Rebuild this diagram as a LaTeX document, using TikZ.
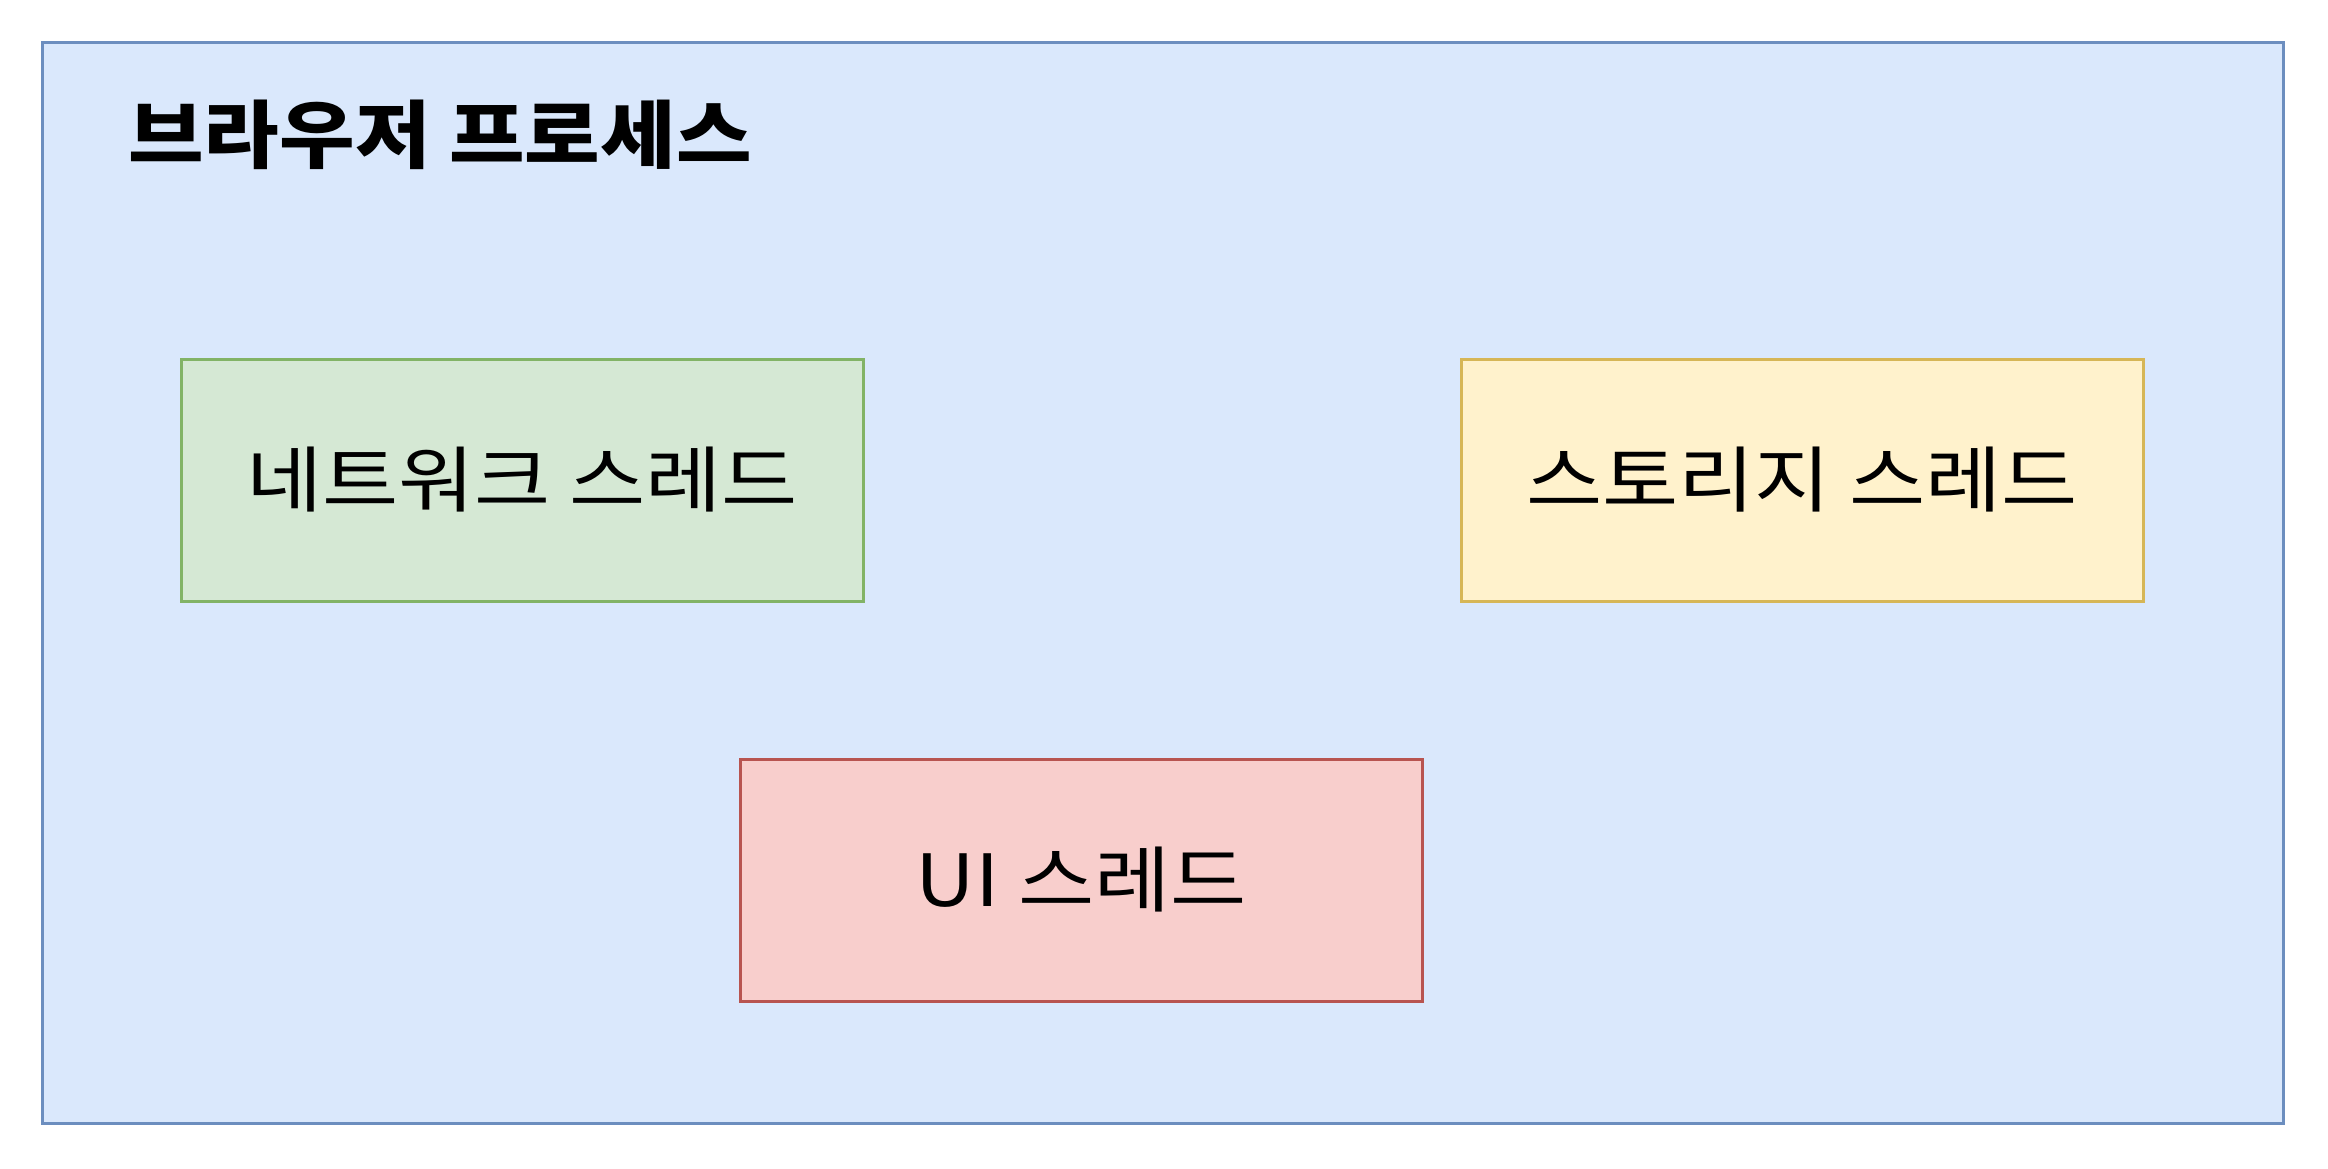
\documentclass[tikz,border=0pt]{standalone}
\usepackage{fontspec}
\setmainfont[FakeStretch=1.15]{Noto Sans CJK KR}
\newfontfamily\titlefont[FakeStretch=1.11]{Noto Sans CJK KR}
\definecolor{procFill}{HTML}{DAE8FC}
\definecolor{procLine}{HTML}{6C8EBF}
\definecolor{netFill}{HTML}{D5E8D4}
\definecolor{netLine}{HTML}{82B366}
\definecolor{storFill}{HTML}{FFF2CC}
\definecolor{storLine}{HTML}{D6B656}
\definecolor{uiFill}{HTML}{F8CECC}
\definecolor{uiLine}{HTML}{B85450}
\begin{document}
\begin{tikzpicture}[x=0.5pt, y=-0.5pt,
  thread/.style={draw, line width=1.5pt, minimum width=341pt, minimum height=121pt, inner sep=0pt, font=\fontsize{36}{42}\selectfont}]
\useasboundingbox (0,0) rectangle (2328,1168);
\node[draw=procLine, fill=procFill, line width=1.5pt, minimum width=1120.5pt, minimum height=540.5pt, inner sep=0pt, anchor=north west] (proc) at (41,41) {};
\node[anchor=west, inner sep=0pt, font=\titlefont\fontsize{37}{42}\selectfont\bfseries] (procTitle) at (128,135) {브라우저 프로세스};
\node[thread, draw=netLine, fill=netFill] (netThread) at (522,480) {네트워크 스레드};
\node[thread, draw=storLine, fill=storFill] (storThread) at (1802,480) {스토리지 스레드};
\node[thread, draw=uiLine, fill=uiFill] (uiThread) at (1081.5,880) {UI 스레드};
\end{tikzpicture}
\end{document}
